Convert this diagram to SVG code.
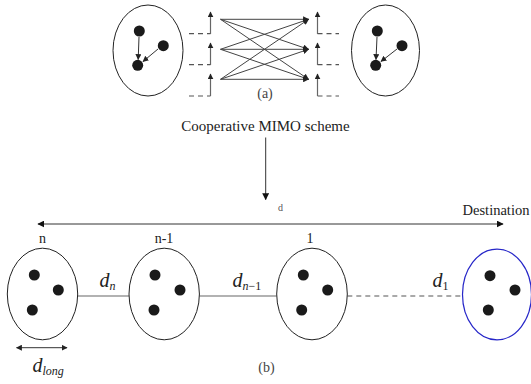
<svg xmlns="http://www.w3.org/2000/svg" width="531" height="384" viewBox="0 0 531 384">
<defs>
<marker id="ah" viewBox="0 0 10 10" refX="9" refY="5" markerWidth="7" markerHeight="7" markerUnits="userSpaceOnUse" orient="auto-start-reverse">
<path d="M0,0 L10,5 L0,10 z" fill="#111"/>
</marker>
<marker id="ahs" viewBox="0 0 10 10" refX="9" refY="5" markerWidth="6" markerHeight="6" markerUnits="userSpaceOnUse" orient="auto-start-reverse">
<path d="M0,0 L10,5 L0,10 z" fill="#222"/>
</marker>
</defs>
<style>
.ell{fill:#fff;stroke:#222;stroke-width:1}
.blue{fill:#fff;stroke:#2626c8;stroke-width:1.2}
.dot{fill:#1a1a1a}
.ln{stroke:#333;stroke-width:1;fill:none}
.gl{stroke:#666;stroke-width:1.2;fill:none}
.dash{stroke:#555;stroke-width:1.2;fill:none;stroke-dasharray:5,4}
.cr{stroke:#444;stroke-width:1;fill:none;marker-end:url(#ahs)}
text{font-family:'Liberation Serif','Times New Roman','DejaVu Serif',serif;fill:#222}
.it{font-style:italic}
</style>

<g id="cluster-a-left">
<ellipse class="ell" cx="148" cy="50.5" rx="35" ry="45.5"/>
<circle class="dot" cx="139.3" cy="31" r="5.5"/>
<circle class="dot" cx="163.3" cy="45.7" r="5.5"/>
<circle class="dot" cx="137.7" cy="65.3" r="5.5"/>
<line class="ln" x1="139" y1="37" x2="138.2" y2="59.5" marker-end="url(#ahs)"/>
<line class="ln" x1="158" y1="49" x2="143" y2="61.5" marker-end="url(#ahs)"/>
</g>

<g id="cluster-a-right">
<ellipse class="ell" cx="385.5" cy="50.5" rx="34" ry="45.5"/>
<circle class="dot" cx="377.3" cy="31" r="5.5"/>
<circle class="dot" cx="402" cy="45.7" r="5.5"/>
<circle class="dot" cx="375.7" cy="65.3" r="5.5"/>
<line class="ln" x1="377" y1="37" x2="376" y2="59.5" marker-end="url(#ahs)"/>
<line class="ln" x1="397" y1="49" x2="381" y2="61.5" marker-end="url(#ahs)"/>
</g>

<g id="antennas-left">
<path class="dash" d="M189,33.7 H210.5 M189,64.7 H210.5 M189,96 H210.5"/>
<line class="gl" x1="210.5" y1="34" x2="210.5" y2="12" marker-end="url(#ahs)"/>
<line class="gl" x1="210.5" y1="65" x2="210.5" y2="43" marker-end="url(#ahs)"/>
<line class="gl" x1="210.5" y1="96" x2="210.5" y2="74" marker-end="url(#ahs)"/>
</g>

<g id="antennas-right">
<path class="dash" d="M317.5,33.7 H339 M317.5,64.7 H339 M317.5,96 H339"/>
<line class="gl" x1="317.5" y1="34" x2="317.5" y2="12" marker-end="url(#ahs)"/>
<line class="gl" x1="317.5" y1="65" x2="317.5" y2="43" marker-end="url(#ahs)"/>
<line class="gl" x1="317.5" y1="96" x2="317.5" y2="74" marker-end="url(#ahs)"/>
</g>

<g id="mimo-links">
<line class="cr" x1="220.5" y1="19.3" x2="308.5" y2="19.3"/>
<line class="cr" x1="220.5" y1="19.3" x2="308.5" y2="49.3"/>
<line class="cr" x1="220.5" y1="19.3" x2="308.5" y2="79.3"/>
<line class="cr" x1="220.5" y1="49.3" x2="308.5" y2="19.3"/>
<line class="cr" x1="220.5" y1="49.3" x2="308.5" y2="49.3"/>
<line class="cr" x1="220.5" y1="49.3" x2="308.5" y2="79.3"/>
<line class="cr" x1="220.5" y1="79.3" x2="308.5" y2="19.3"/>
<line class="cr" x1="220.5" y1="79.3" x2="308.5" y2="49.3"/>
<line class="cr" x1="220.5" y1="79.3" x2="308.5" y2="79.3"/>
</g>

<text x="265" y="98" font-size="14" text-anchor="middle" style="fill:#444">(a)</text>
<text x="265.5" y="130.5" font-size="15" text-anchor="middle">Cooperative MIMO scheme</text>

<g id="connectors">
<line class="ln" x1="265.7" y1="137.5" x2="265.7" y2="199.5" marker-end="url(#ah)"/>
<line class="ln" x1="38" y1="224" x2="503" y2="224" marker-start="url(#ah)" marker-end="url(#ah)"/>
<line class="gl" x1="77.7" y1="296" x2="129" y2="296"/>
<line class="gl" x1="199.3" y1="296" x2="276.7" y2="296"/>
<line class="dash" x1="347.3" y1="296" x2="462.5" y2="296"/>
<line class="ln" x1="16.5" y1="347.7" x2="67" y2="347.7" marker-start="url(#ahs)" marker-end="url(#ahs)"/>
</g>

<text x="280.5" y="211" font-size="10" text-anchor="middle" style="fill:#555">d</text>
<text x="496" y="214.5" font-size="14.5" text-anchor="middle">Destination</text>

<g id="cluster-n">
<ellipse class="ell" cx="42.5" cy="294" rx="35.2" ry="45.8"/>
<circle class="dot" cx="34.3" cy="275" r="5.5"/>
<circle class="dot" cx="58.3" cy="290" r="5.5"/>
<circle class="dot" cx="32.3" cy="310" r="5.5"/>
<text x="42.5" y="243" font-size="14" text-anchor="middle">n</text>
</g>

<g id="cluster-n-1">
<ellipse class="ell" cx="164.2" cy="294" rx="35.2" ry="45.8"/>
<circle class="dot" cx="155" cy="275" r="5.5"/>
<circle class="dot" cx="180" cy="290" r="5.5"/>
<circle class="dot" cx="154" cy="310" r="5.5"/>
<text x="164" y="243" font-size="14" text-anchor="middle">n-1</text>
</g>

<g id="cluster-1">
<ellipse class="ell" cx="312" cy="294" rx="35.3" ry="45.8"/>
<circle class="dot" cx="303.3" cy="275" r="5.5"/>
<circle class="dot" cx="327.7" cy="290" r="5.5"/>
<circle class="dot" cx="301.7" cy="310" r="5.5"/>
<text x="310" y="243" font-size="14" text-anchor="middle">1</text>
</g>

<g id="destination">
<ellipse class="blue" cx="497" cy="294.5" rx="34.5" ry="45.3"/>
<circle class="dot" cx="490" cy="275.7" r="5.5"/>
<circle class="dot" cx="515" cy="290" r="5.5"/>
<circle class="dot" cx="488.3" cy="310" r="5.5"/>
</g>

<text class="it" x="99.5" y="286.5" font-size="20">d<tspan font-size="12" dy="3">n</tspan></text>
<text class="it" x="232.5" y="286.5" font-size="20">d<tspan font-size="12" dy="3">n</tspan><tspan font-style="normal" font-size="12">−1</tspan></text>
<text class="it" x="432.5" y="286.5" font-size="20">d<tspan font-style="normal" font-size="12" dy="3">1</tspan></text>
<text class="it" x="32.5" y="371.5" font-size="20">d<tspan font-size="12" dy="3">long</tspan></text>
<text x="266.5" y="372" font-size="14" text-anchor="middle" style="fill:#444">(b)</text>
</svg>
